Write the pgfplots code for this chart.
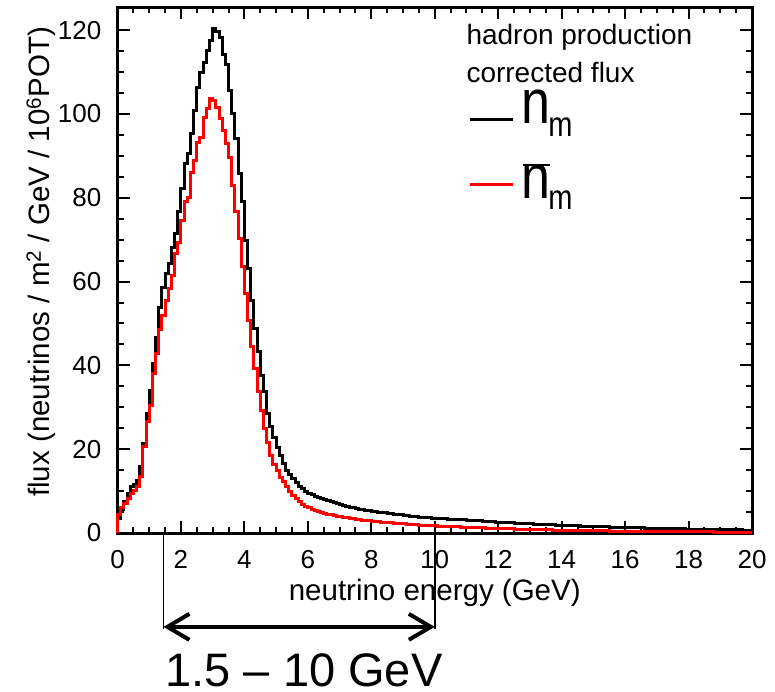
\documentclass[border=0pt]{standalone}
\usepackage{fontspec}
\setmainfont{Liberation Sans}
\usepackage{graphicx}
\usepackage{pgfplots}
\pgfplotsset{compat=1.18}
\usepackage{pgfplotstable}
\usetikzlibrary{arrows.meta}

\pgfplotstableread{
x b r
0.0 0 0
0.0 3.5 4.5
0.1 5.5 6.0
0.2 7.5 7.0
0.3 9.5 8.3
0.4 11.0 9.5
0.5 11.5 10.2
0.6 12.6 11.0
0.7 15.8 13.5
0.8 21.4 20.6
0.9 28.5 26.5
1.0 34.1 30.5
1.1 40.4 38.0
1.2 46.6 42.9
1.3 53.8 48.5
1.4 58.6 52.0
1.5 61.9 55.5
1.6 64.3 58.4
1.7 68.2 61.5
1.8 71.4 66.7
1.9 76.6 69.4
2.0 82.1 74.6
2.1 88.1 79.0
2.2 90.5 80.0
2.3 95.3 86.1
2.4 100.8 88.9
2.5 106.4 93.3
2.6 109.9 94.4
2.7 112.3 99.2
2.8 115.1 101.2
2.9 117.5 103.6
3.0 120.3 103.2
3.1 119.6 101.6
3.2 118.3 98.8
3.3 114.3 96.0
3.4 111.9 93.0
3.5 105.6 89.7
3.6 100.0 82.9
3.7 94.1 76.6
3.8 85.7 70.2
3.9 79.0 63.5
4.0 69.8 57.1
4.1 63.0 50.8
4.2 55.5 44.4
4.3 48.7 39.2
4.4 43.2 33.7
4.5 37.7 29.3
4.6 33.7 25.0
4.7 28.5 21.5
4.8 25.5 18.5
4.9 22.8 16.4
5.0 20.5 14.8
5.1 18.5 13.3
5.2 16.6 12.3
5.3 15.0 11.0
5.4 14.0 10.0
5.5 13.0 9.0
5.6 12.0 8.2
5.7 11.2 7.4
5.8 10.6 6.8
5.9 10.0 6.4
6.0 9.5 6.0
6.1 9.1 5.6
6.2 8.8 5.3
6.3 8.5 5.1
6.4 8.2 4.9
6.5 8.0 4.7
6.6 7.7 4.5
6.7 7.5 4.3
6.8 7.3 4.15
6.9 7.1 4.0
7.0 6.9 3.9
7.1 6.6 3.75
7.2 6.4 3.6
7.3 6.2 3.5
7.4 6.0 3.4
7.5 5.9 3.3
7.6 5.7 3.2
7.7 5.6 3.1
7.8 5.4 3.0
7.9 5.3 2.9
8.0 5.2 2.85
8.1 5.1 2.75
8.2 5.0 2.7
8.3 4.9 2.6
8.4 4.8 2.5
8.5 4.7 2.45
8.6 4.6 2.4
8.7 4.5 2.3
8.8 4.4 2.25
8.9 4.3 2.2
9.0 4.2 2.15
9.1 4.1 2.1
9.2 4.0 2.05
9.3 3.95 2.0
9.4 3.9 1.95
9.5 3.8 1.9
9.6 3.75 1.85
9.7 3.7 1.8
9.8 3.6 1.78
9.9 3.55 1.75
10.0 3.50 1.70
10.1 3.46 1.66
10.2 3.42 1.63
10.3 3.38 1.59
10.4 3.34 1.56
10.5 3.30 1.52
10.6 3.26 1.49
10.7 3.22 1.45
10.8 3.18 1.42
10.9 3.14 1.38
11.0 3.10 1.35
11.1 3.04 1.32
11.2 2.99 1.29
11.3 2.93 1.26
11.4 2.88 1.23
11.5 2.82 1.20
11.6 2.77 1.17
11.7 2.71 1.14
11.8 2.66 1.11
11.9 2.60 1.08
12.0 2.55 1.05
12.1 2.51 1.03
12.2 2.47 1.00
12.3 2.43 0.98
12.4 2.39 0.96
12.5 2.35 0.94
12.6 2.31 0.91
12.7 2.27 0.89
12.8 2.23 0.87
12.9 2.19 0.84
13.0 2.15 0.82
13.1 2.12 0.80
13.2 2.08 0.79
13.3 2.05 0.77
13.4 2.01 0.75
13.5 1.98 0.74
13.6 1.94 0.72
13.7 1.91 0.70
13.8 1.87 0.68
13.9 1.84 0.67
14.0 1.80 0.65
14.1 1.78 0.64
14.2 1.75 0.62
14.3 1.73 0.61
14.4 1.70 0.60
14.5 1.68 0.59
14.6 1.65 0.57
14.7 1.63 0.56
14.8 1.60 0.55
14.9 1.58 0.53
15.0 1.55 0.52
15.1 1.53 0.51
15.2 1.50 0.50
15.3 1.48 0.49
15.4 1.45 0.48
15.5 1.43 0.47
15.6 1.40 0.46
15.7 1.38 0.45
15.8 1.35 0.44
15.9 1.33 0.43
16.0 1.30 0.42
16.1 1.28 0.41
16.2 1.26 0.40
16.3 1.24 0.40
16.4 1.22 0.39
16.5 1.20 0.38
16.6 1.18 0.37
16.7 1.16 0.36
16.8 1.14 0.36
16.9 1.12 0.35
17.0 1.10 0.34
17.1 1.08 0.33
17.2 1.06 0.33
17.3 1.05 0.32
17.4 1.03 0.31
17.5 1.01 0.31
17.6 0.99 0.30
17.7 0.97 0.29
17.8 0.96 0.29
17.9 0.94 0.28
18.0 0.92 0.27
18.1 0.91 0.27
18.2 0.89 0.26
18.3 0.88 0.26
18.4 0.86 0.25
18.5 0.85 0.25
18.6 0.84 0.24
18.7 0.82 0.24
18.8 0.81 0.23
18.9 0.79 0.23
19.0 0.78 0.22
19.1 0.77 0.22
19.2 0.76 0.21
19.3 0.75 0.21
19.4 0.74 0.20
19.5 0.73 0.20
19.6 0.72 0.19
19.7 0.71 0.19
19.8 0.70 0.18
19.9 0.69 0.18
20.0 0.69 0.18
}\flux

\begin{document}
\begin{tikzpicture}
\path[use as bounding box] (-117.5pt,-159pt) rectangle (657.5pt,533pt);
\begin{axis}[
  at={(0pt,0pt)}, anchor=south west,
  scale only axis, width=634.5pt, height=525.5pt,
  xmin=0, xmax=20, ymin=0, ymax=125.4,
  clip=false,
  axis line style={line width=3pt},
  tick pos=both, tick align=inside,
  xtick={0,2,...,20}, ytick={0,20,...,120},
  minor x tick num=3, minor y tick num=3,
  major tick length=12pt, minor tick length=6pt,
  tick style={line width=2pt, black},
  /pgf/number format/assume math mode=true,
  ticklabel style={font=\fontsize{26}{26}\selectfont, inner sep=0pt},
  yticklabel style={anchor=east, xshift=-16pt},
  xticklabel style={anchor=north, yshift=-17.5pt},
  xlabel={neutrino energy (GeV)},
  ylabel={flux (neutrinos / m\textsuperscript{2} / GeV / 10\textsuperscript{6}POT)},
  label style={font=\fontsize{29.5}{29.5}\selectfont, inner sep=0pt},
  xlabel style={at={(axis description cs:0.5,-0.1276)}, anchor=base},
  ylabel style={at={(axis description cs:-0.1064,0.516)}, anchor=base},
]
\addplot[const plot mark left, line width=3pt, black] table[x=x, y=b] {\flux};
\addplot[const plot mark left, line width=3pt, red] table[x=x, y=r] {\flux};
\draw[line width=1.8pt] (axis cs:1.45,0) -- (axis cs:1.45,-23);
\draw[line width=1.8pt] (axis cs:10,0) -- (axis cs:10,-23);
\draw[line width=4pt, {Straight Barb[length=22pt,width=26pt]}-{Straight Barb[length=22pt,width=26pt]}] (axis cs:1.45,-22.4) -- (axis cs:10,-22.4);
\node[anchor=base, inner sep=0pt, font=\fontsize{47}{47}\selectfont] at (axis cs:5.88,-36.7) {1.5 -- 10 GeV};
\end{axis}
\node[anchor=base west, inner sep=0pt, font=\fontsize{28}{28}\selectfont] at (348.8pt,488pt) {hadron production};
\node[anchor=base west, inner sep=0pt, font=\fontsize{28}{28}\selectfont] at (348.8pt,450.3pt) {corrected flux};
\draw[line width=3pt] (352.5pt,413.7pt) -- (395.5pt,413.7pt);
\node[anchor=base west, inner sep=0pt] at (404pt,409.7pt) {\fontsize{52}{52}\selectfont\scalebox{1}[1.2]{n}};
\node[anchor=base west, inner sep=0pt] at (430.6pt,396.3pt) {\fontsize{29}{29}\selectfont\scalebox{1}[1.2]{m}};
\draw[red, line width=3pt] (352.5pt,348pt) -- (395.5pt,348pt);
\node[anchor=base west, inner sep=0pt] at (404pt,334.7pt) {\fontsize{52}{52}\selectfont\scalebox{1}[1.2]{n}};
\draw[line width=2pt] (405.2pt,368pt) -- (432.5pt,368pt);
\node[anchor=base west, inner sep=0pt] at (430.6pt,323pt) {\fontsize{29}{29}\selectfont\scalebox{1}[1.2]{m}};
\end{tikzpicture}
\end{document}
